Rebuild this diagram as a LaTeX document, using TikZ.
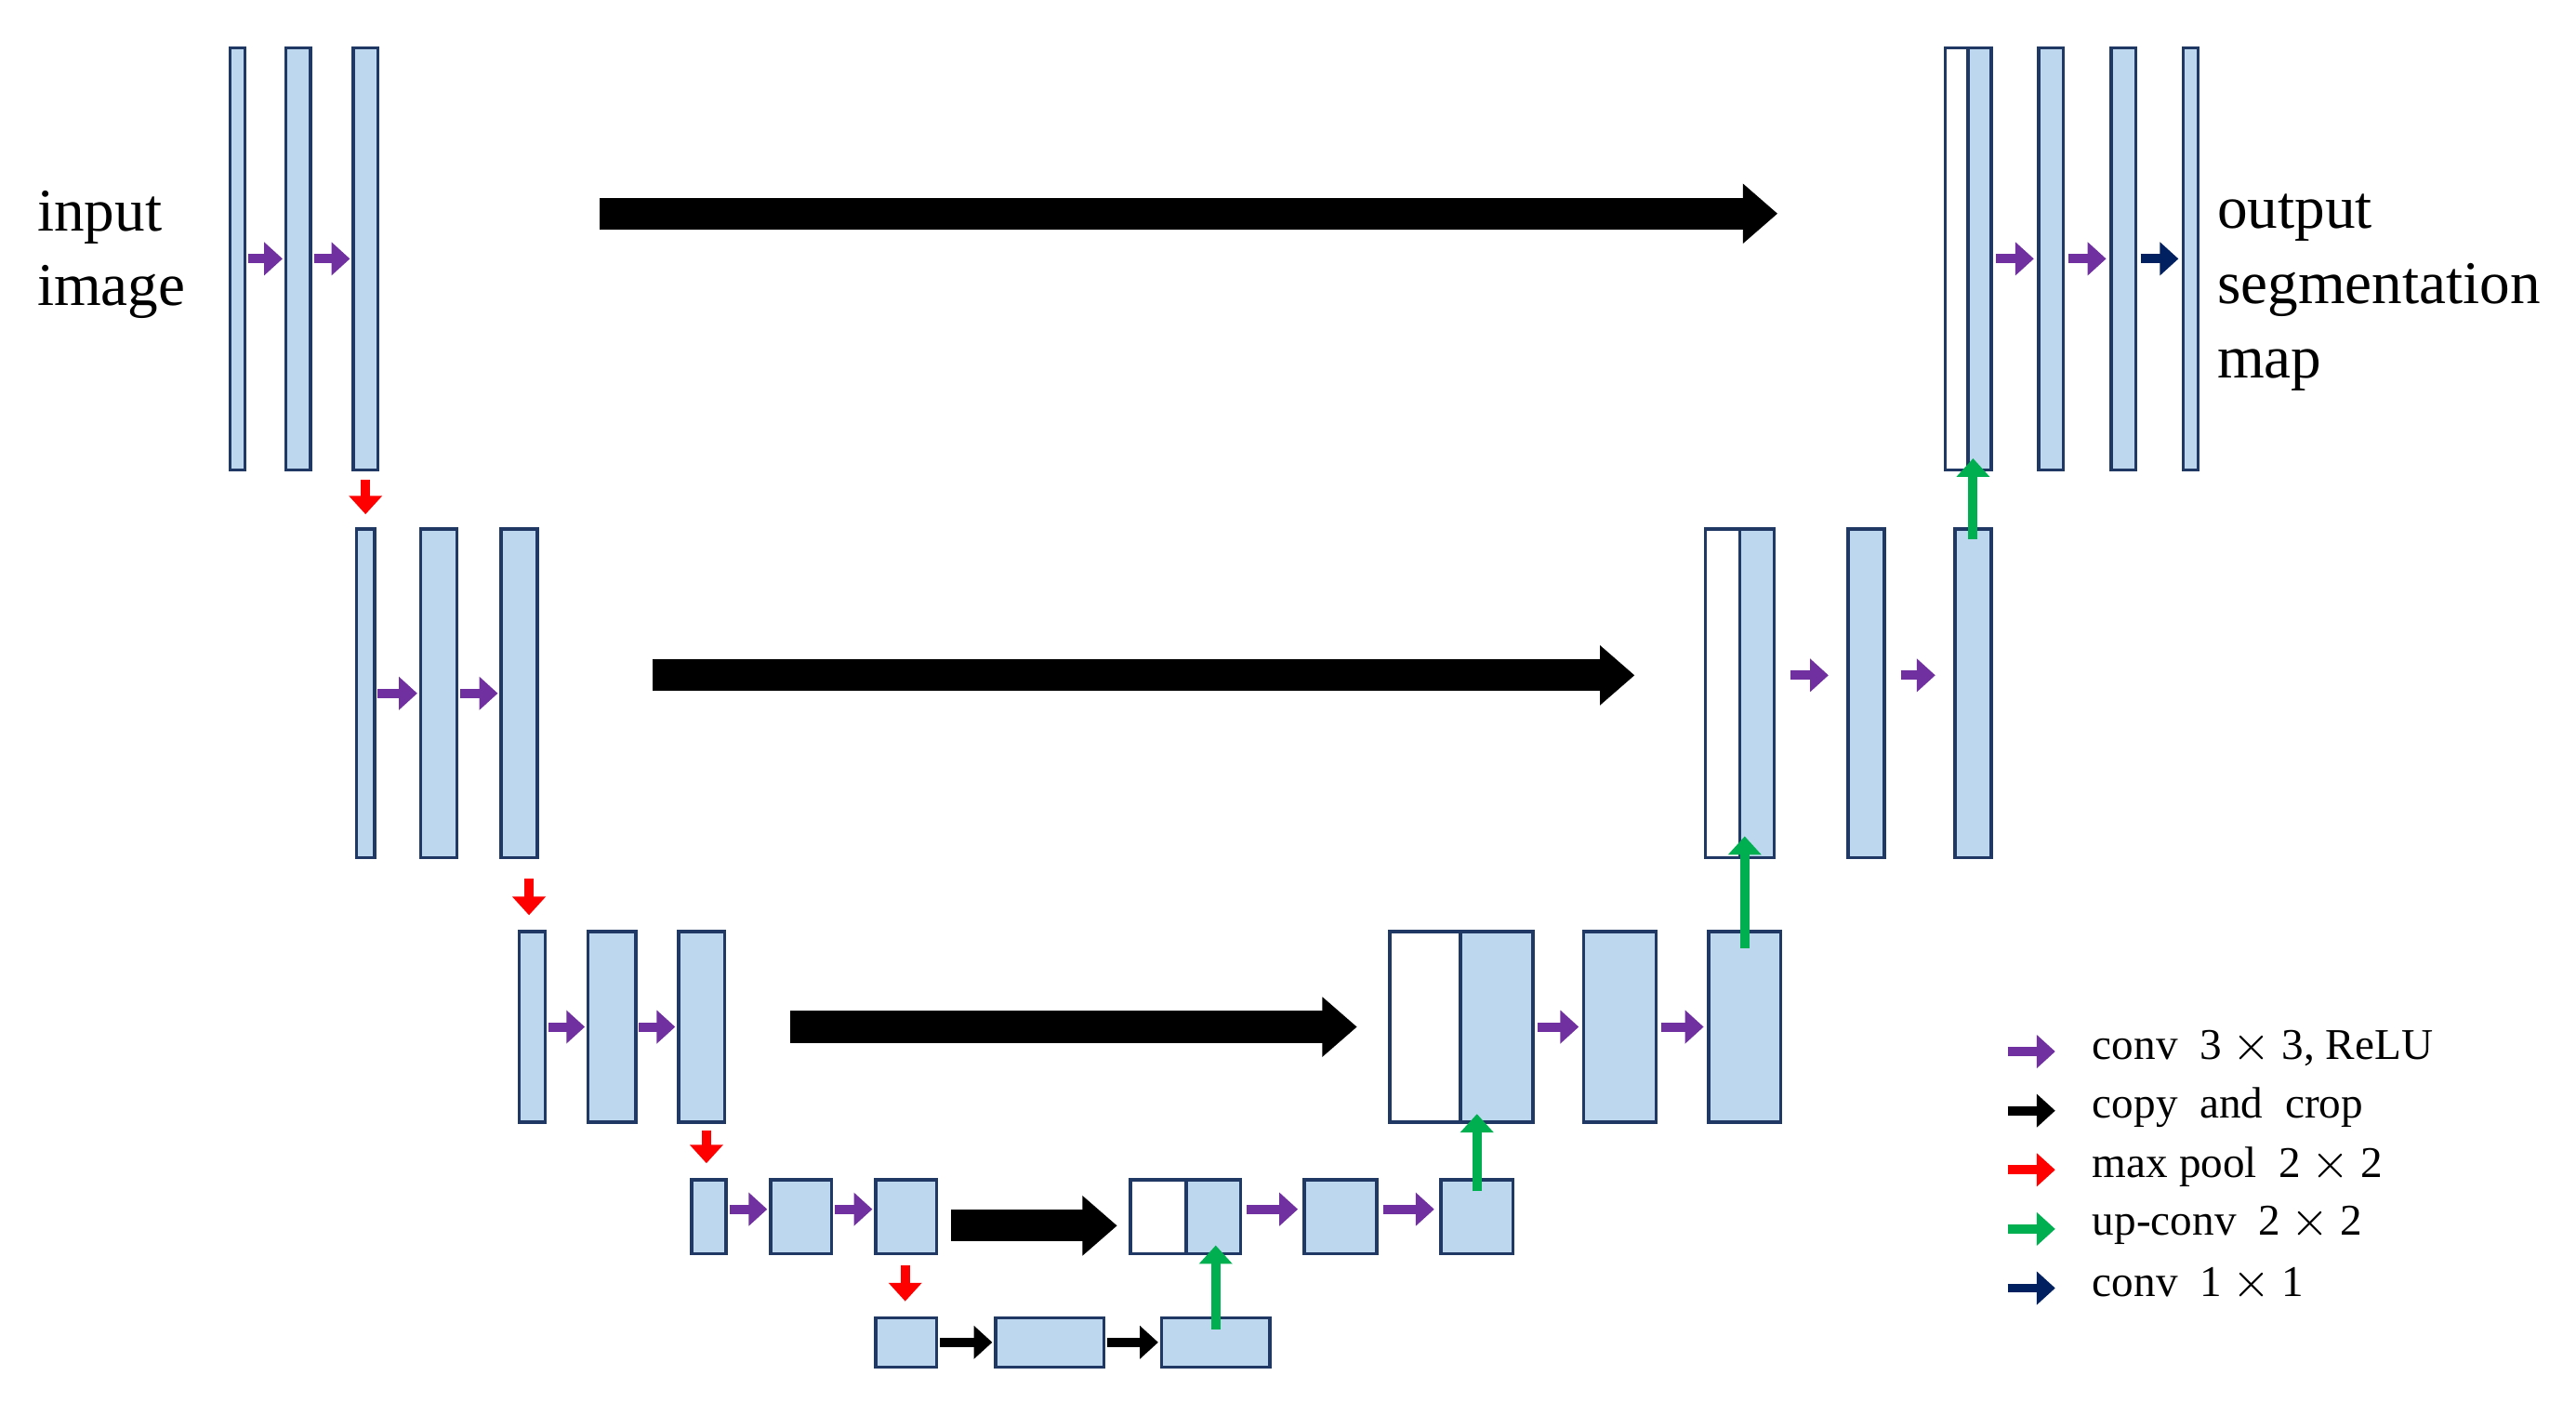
\documentclass[tikz,border=0pt]{standalone}
\usepackage{fontspec}
\setmainfont{Liberation Serif}
\usetikzlibrary{arrows.meta}
\definecolor{bfill}{RGB}{189,215,238}
\definecolor{bdraw}{RGB}{32,56,100}
\definecolor{pur}{RGB}{112,48,160}
\definecolor{grn}{RGB}{0,176,80}
\definecolor{nav}{RGB}{0,32,96}
\tikzset{
 blk/.style={draw=bdraw,line width=0.55pt,inner sep=0,outer sep=0,rectangle},
 sa/.style={line width=1.6pt,-{Triangle[length=3.2pt,width=5.6pt]}},
 pa/.style={sa,pur}, ra/.style={sa,red}, ga/.style={sa,grn}, na/.style={sa,nav}, ka/.style={sa,black},
 big/.style={line width=5.5pt,-{Triangle[length=6pt,width=10pt]}},
 lab/.style={font=\fontsize{10.5pt}{13pt}\selectfont,anchor=west,align=left,inner sep=0},
 leg/.style={font=\fontsize{7.6pt}{9pt}\selectfont,anchor=west,inner sep=0}
}
\newcommand\blk[6]{\node[blk,fill=#6,minimum width=\fpeval{(#4-#2)*0.1}mm,minimum height=\fpeval{(#5-#3)*0.1}mm] (#1) at ({(#2+#4)/2},{(#3+#5)/2}) {};}
\begin{document}
\begin{tikzpicture}[x=0.1mm,y=-0.1mm]
\useasboundingbox (0,0) rectangle (1568,853);
% level 1
\blk{a1}{140}{29}{149}{286}{bfill}\blk{a2}{174}{29}{189}{286}{bfill}\blk{a3}{215}{29}{230}{286}{bfill}
\draw[pa] (a1.east)++(2,0) -- ([xshift=-0.2mm]a2.west);
\draw[pa] (a2.east)++(2,0) -- ([xshift=-0.2mm]a3.west);
% level 2
\blk{b1}{217}{322}{228}{522}{bfill}\blk{b2}{256}{322}{278}{522}{bfill}\blk{b3}{305}{322}{327}{522}{bfill}
\draw[pa] (b1.east)++(2,0) -- ([xshift=-0.2mm]b2.west);
\draw[pa] (b2.east)++(2,0) -- ([xshift=-0.2mm]b3.west);
% level 3
\blk{c1}{316}{567}{332}{683}{bfill}\blk{c2}{358}{567}{387}{683}{bfill}\blk{c3}{413}{567}{441}{683}{bfill}
\draw[pa] (c1.east)++(2,0) -- ([xshift=-0.2mm]c2.west);
\draw[pa] (c2.east)++(2,0) -- ([xshift=-0.2mm]c3.west);
% level 4
\blk{d1}{421}{718}{442}{763}{bfill}\blk{d2}{469}{718}{506}{763}{bfill}\blk{d3}{533}{718}{570}{763}{bfill}
\draw[pa] ([yshift=0.45mm]d1.east)++(2,0) -- ([xshift=-0.2mm,yshift=0.45mm]d2.west);
\draw[pa] ([yshift=0.45mm]d2.east)++(2,0) -- ([xshift=-0.2mm,yshift=0.45mm]d3.west);
% level 5
\blk{e1}{533}{802}{570}{832}{bfill}\blk{e2}{606}{802}{672}{832}{bfill}\blk{e3}{707}{802}{773}{832}{bfill}
\draw[ka] (e1.east)++(2,0) -- ([xshift=-0.2mm]e2.west);
\draw[ka] (e2.east)++(2,0) -- ([xshift=-0.2mm]e3.west);
% level 4 right
\blk{f0}{688}{718}{722}{763}{white}\blk{f1}{722}{718}{755}{763}{bfill}\blk{f2}{794}{718}{838}{763}{bfill}\blk{f3}{877}{718}{921}{763}{bfill}
\draw[pa] ([yshift=0.45mm]f1.east)++(4,0) -- ([xshift=-0.4mm,yshift=0.45mm]f2.west);
\draw[pa] ([yshift=0.45mm]f2.east)++(4,0) -- ([xshift=-0.4mm,yshift=0.45mm]f3.west);
% level 3 right
\blk{g0}{846}{567}{889}{683}{white}\blk{g1}{889}{567}{933}{683}{bfill}\blk{g2}{964}{567}{1008}{683}{bfill}\blk{g3}{1040}{567}{1084}{683}{bfill}
\draw[pa] (g1.east)++(3,0) -- ([xshift=-0.3mm]g2.west);
\draw[pa] (g2.east)++(3,0) -- ([xshift=-0.3mm]g3.west);
% level 2 right
\blk{h0}{1038}{322}{1059}{522}{white}\blk{h1}{1059}{322}{1080}{522}{bfill}\blk{h2}{1125}{322}{1147}{522}{bfill}\blk{h3}{1190}{322}{1212}{522}{bfill}
\draw[pa] ([yshift=1.1mm]h1.east)++(10,0) -- ([xshift=-1.2mm,yshift=1.1mm]h2.west);
\draw[pa] ([yshift=1.1mm]h2.east)++(10,0) -- ([xshift=-1.2mm,yshift=1.1mm]h3.west);
% level 1 right
\blk{k0}{1184}{29}{1198}{286}{white}\blk{k1}{1198}{29}{1212}{286}{bfill}\blk{k2}{1241}{29}{1256}{286}{bfill}\blk{k3}{1285}{29}{1300}{286}{bfill}\blk{k4}{1329}{29}{1338}{286}{bfill}
\draw[pa] (k1.east)++(3,0) -- ([xshift=-0.3mm]k2.west);
\draw[pa] (k2.east)++(3,0) -- ([xshift=-0.3mm]k3.west);
\draw[na] (k3.east)++(3,0) -- ([xshift=-0.3mm]k4.west);
% pooling
\draw[ra] ([yshift=-0.6mm]a3.south) -- ([yshift=0.9mm]b1.north -| a3.south);
\draw[ra] ([yshift=-1.3mm]b3.south -| 322,0) -- ([yshift=1mm]c1.north -| 322,0);
\draw[ra] ([yshift=-0.5mm]c3.south -| 430,0) -- ([yshift=1mm]d1.north -| 430,0);
\draw[ra] ([yshift=-0.7mm]d3.south -| 551,0) -- ([yshift=1mm]e1.north -| 551,0);
% up-conv
\draw[ga] ([yshift=-0.7mm]e3.north) -- ([yshift=0.5mm]f1.south -| e3.north);
\draw[ga] ([yshift=-0.7mm]f3.north) -- ([yshift=0.5mm]g1.south -| f3.north);
\draw[ga] ([yshift=-1mm]g3.north) -- ([yshift=1.3mm]h1.south -| g3.north);
\draw[ga] ([yshift=-0.6mm]h3.north) -- ([yshift=0.7mm]k1.south -| h3.north);
% copy and crop
\draw[big] (365,130) coordinate (s1) -- (1082,130) coordinate (t1);
\draw[big] (397,411) coordinate (s2) -- (995,411) coordinate (t2);
\draw[big] (481,625) coordinate (s3) -- (826,625) coordinate (t3);
\draw[big] (579,746) coordinate (s4) -- (680,746) coordinate (t4);
% labels
\node[lab] (inp) at (22,155) {input\\image};
\node[lab] (out) at (1349,178) {output\\segmentation\\map};
% legend
\foreach \y/\c/\t [count=\i] in {640/pur/{conv\ \ 3 $\times$ 3, ReLU},676/black/{copy\ \ and\ \ crop},712/red/{max pool\ \ 2 $\times$ 2},748/grn/{up-conv\ \ 2 $\times$ 2},784/nav/{conv\ \ 1 $\times$ 1}}{
 \coordinate (l\i s) at (1222,\y); \coordinate (l\i e) at (1251,\y);
 \draw[sa,\c] (l\i s) -- (l\i e);
 \node[leg] (l\i t) at (1273,\y-2) {\t};
}
\end{tikzpicture}
\end{document}
